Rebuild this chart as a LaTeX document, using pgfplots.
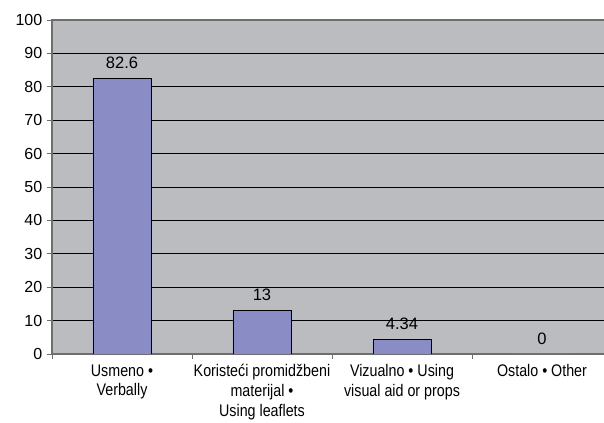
\documentclass[border=0pt]{standalone}
\usepackage{fontspec}
\setmainfont{Liberation Sans}
\newfontfamily\narrowfont[FakeStretch=0.85]{Liberation Sans}
\usepackage{pgfplots}
\pgfplotsset{compat=1.18}
\definecolor{plotbg}{RGB}{187,188,192}
\definecolor{barfill}{RGB}{138,141,197}
\definecolor{frame}{RGB}{110,110,112}
\begin{document}
\begin{tikzpicture}
\begin{axis}[
  scale only axis,
  width=420pt, height=250.5pt,
  at={(0,0)}, anchor=south west,
  ymin=0, ymax=100, ytick distance=10,
  xmin=-0.5, xmax=3.5,
  xtick={-0.5,0.5,1.5,2.5,3.5},
  x tick label as interval,
  xticklabels={{Usmeno •\\Verbally},{Koristeći promidžbeni\\materijal •\\Using leaflets},{Vizualno • Using\\visual aid or props},{Ostalo • Other}},
  xticklabel style={align=center, font=\narrowfont\fontsize{12.6}{14.8}\selectfont, inner sep=4pt},
  yticklabel style={font=\fontsize{12}{14}\selectfont},
  /pgf/number format/assume math mode=true,
  tick align=outside, xtick pos=bottom, ytick pos=left,
  major tick length=3.75pt,
  tick style={draw=frame, line width=0.6pt},
  axis line style={draw=frame, line width=0.9pt},
  axis background/.style={fill=plotbg},
  ymajorgrids, grid style={draw=black, line width=0.7pt},
  ybar, bar width=43.5pt,
  nodes near coords, point meta=explicit symbolic,
  every node near coord/.append style={font=\fontsize{12.4}{14}\selectfont, yshift=3.5pt},
]
\addplot[fill=barfill, draw=black, line width=0.6pt] coordinates {
  (0,82.6) [82.6]
  (1,13) [13]
  (2,4.34) [4.34]
  (3,0) [0]
};
\end{axis}
\pgfresetboundingbox
\path[use as bounding box] (-39pt,-51.75pt) rectangle (414pt,265.5pt);
\end{tikzpicture}
\end{document}
